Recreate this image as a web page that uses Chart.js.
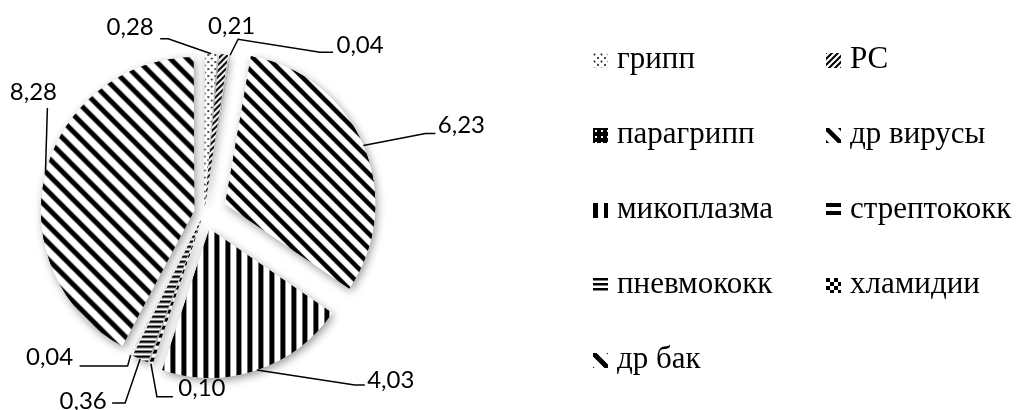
<!DOCTYPE html>
<html><head><meta charset="utf-8">
<script src="https://cdn.jsdelivr.net/npm/chart.js@4.4.1/dist/chart.umd.min.js"></script>
<style>
html,body{margin:0;padding:0;background:#fff;width:1019px;height:410px;overflow:hidden;}
#wrap{position:absolute;left:0;top:0;width:1019px;height:410px;}
#legend{position:absolute;left:0;top:0;}
.item{position:absolute;font-family:"Liberation Serif","Times New Roman",serif;font-size:31px;line-height:30px;color:#000;white-space:nowrap;}
.sw{position:absolute;}
</style></head><body>
<div id="wrap"><canvas id="c" width="1019" height="410"></canvas></div>
<div id="legend"></div>
<script>
// ---- data ----
const categories = ['грипп','РС','парагрипп','др вирусы','микоплазма','стрептококк','пневмококк','хламидии','др бак'];
const values = [0.28, 0.21, 0.04, 6.23, 4.03, 0.10, 0.36, 0.04, 8.28];
const valueLabels = values.map(v => v.toFixed(2).replace('.', ','));

// ---- styles / layout ----
const patternKinds = ['dots','thinUp','dark','diagB','vert','hThick','hThin','checker','diagA'];
const explode = [24, 24, 24, 92, 68, 24, 24, 24, 40];
const labelShift = [[-81,-26],[8,-28],[130,-10],[98,-20],[134,10],[51,25],[-57,42],[-81,2],[-12,-82]];
const leaderPts = [
  [[-43,-15],[-51,-15]],
  [],
  [[8,-16],[90,-3],[103,-3]],
  [[62,-12],[72,-12]],
  [[98,15],[108,15]],
  [[6,33],[22,33]],
  [[-15,44],[-28,44]],
  [[-3,11],[-51,11]],
  [[2,-66]]
];

function tile(w, h, draw) {
  const c = document.createElement('canvas'); c.width = w; c.height = h;
  const g = c.getContext('2d');
  g.fillStyle = '#fff'; g.fillRect(0, 0, w, h);
  g.fillStyle = '#000'; g.strokeStyle = '#000';
  draw(g, w, h); return c;
}
function diagDown(s, lw) {
  return tile(s, s, g => { g.lineWidth = lw; g.lineCap = 'butt'; g.beginPath();
    for (let k = -1; k <= 1; k++) { g.moveTo(k*s - s, -s); g.lineTo(k*s + 2*s, 2*s); } g.stroke(); });
}
function diagUp(s, lw) {
  return tile(s, s, g => { g.lineWidth = lw; g.lineCap = 'butt'; g.beginPath();
    for (let k = -1; k <= 1; k++) { g.moveTo(k*s - s, 2*s); g.lineTo(k*s + 2*s, -s); } g.stroke(); });
}
const tiles = {
  dots: tile(7, 7, g => { g.fillStyle = '#111'; [[1.5,1.5],[5,5]].forEach(p => { g.beginPath(); g.arc(p[0], p[1], 1.0, 0, 7); g.fill(); }); }),
  thinUp: diagUp(6, 2),
  dark: tile(6, 6, g => { g.fillRect(0, 0, 6, 6); g.fillStyle = '#fff'; g.fillRect(2, 2, 2, 2); }),
  diagB: diagDown(15, 4.5),
  vert: tile(11, 1, g => { g.fillRect(0, 0, 5, 1); }),
  hThick: tile(1, 8, g => { g.fillRect(0, 0, 1, 4); }),
  hThin: tile(1, 5, g => { g.fillRect(0, 0, 1, 2.5); }),
  checker: tile(8, 8, g => { g.fillRect(0, 0, 4, 4); g.fillRect(4, 4, 4, 4); }),
  diagA: diagDown(17, 5)
};
function makePattern(ctx, i) { return ctx.createPattern(tiles[patternKinds[i]], 'repeat'); }

const canvas = document.getElementById('c');
const ctx = canvas.getContext('2d');
const patterns = categories.map((_, i) => makePattern(ctx, i));

const shadowPlugin = {
  id: 'softShadow',
  beforeDatasetsDraw(chart) {
    const c = chart.ctx; const meta = chart.getDatasetMeta(0);
    c.save();
    c.shadowColor = 'rgba(0,0,0,0.4)'; c.shadowBlur = 8; c.shadowOffsetX = 2; c.shadowOffsetY = 3;
    meta.data.forEach(a => a.draw(c));
    c.restore();
  }
};
const labelPlugin = {
  id: 'valueLabels',
  afterDatasetsDraw(chart) {
    const c = chart.ctx; const meta = chart.getDatasetMeta(0);
    c.save();
    c.font = '24px Lato'; c.fillStyle = '#000'; c.strokeStyle = '#000'; c.lineWidth = 1.5;
    c.textAlign = 'center'; c.textBaseline = 'middle';
    meta.data.forEach((arc, i) => {
      const p = arc.getProps(['x','y','startAngle','endAngle','outerRadius','circumference'], true);
      const mid = (p.startAngle + p.endAngle) / 2;
      const t = (arc.options.offset || 0) / 4;
      const fix = 1 - Math.sin(Math.min(Math.PI, p.circumference));
      const dist = t + p.outerRadius + t * fix;
      const ax = p.x + Math.cos(mid) * dist, ay = p.y + Math.sin(mid) * dist;
      const pts = leaderPts[i];
      if (pts.length) {
        c.beginPath(); c.moveTo(ax, ay);
        pts.forEach(q => c.lineTo(ax + q[0], ay + q[1]));
        c.stroke();
      }
      c.fillText(valueLabels[i], ax + labelShift[i][0], ay + labelShift[i][1]);
    });
    c.restore();
  }
};

new Chart(ctx, {
  type: 'pie',
  data: { labels: categories, datasets: [{ data: values, backgroundColor: patterns, borderWidth: 0, offset: explode, hoverOffset: 0 }] },
  options: {
    responsive: false, animation: false, devicePixelRatio: 1, radius: 148, rotation: 0,
    layout: { padding: { left: 0, right: 611, top: 16, bottom: 0 } },
    events: [],
    plugins: { legend: { display: false }, tooltip: { enabled: false } }
  },
  plugins: [shadowPlugin, labelPlugin]
});

// ---- legend (HTML) ----
const legend = document.getElementById('legend');
const swX = [593, 826], txX = [617, 850];
categories.forEach((name, i) => {
  const row = Math.floor(i / 2), col = i % 2, base = 68 + 75 * row;
  const sw = document.createElement('canvas'); sw.width = 15; sw.height = 15; sw.className = 'sw';
  sw.style.left = swX[col] + 'px'; sw.style.top = (base - 15) + 'px';
  const g = sw.getContext('2d'); g.fillStyle = makePattern(g, i); g.fillRect(0, 0, 15, 15);
  legend.appendChild(sw);
  const tx = document.createElement('div'); tx.className = 'item';
  tx.style.left = txX[col] + 'px'; tx.style.top = (base - 25) + 'px'; tx.textContent = name;
  legend.appendChild(tx);
});
</script>
</body></html>
